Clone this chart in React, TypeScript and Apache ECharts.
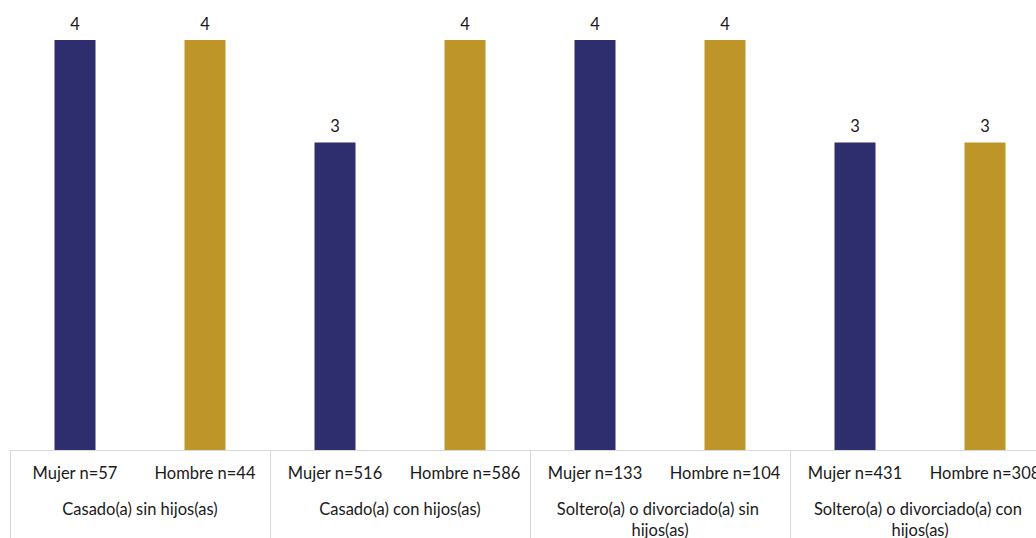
import React, { useEffect, useRef } from "react";
import * as echarts from "echarts";

const subLabels = [
  "Mujer n=57", "Hombre n=44",
  "Mujer n=516", "Hombre n=586",
  "Mujer n=133", "Hombre n=104",
  "Mujer n=431", "Hombre n=308",
];
const values = [4, 4, 3, 4, 4, 4, 3, 3];
const groups = [
  "Casado(a) sin hijos(as)",
  "Casado(a) con hijos(as)",
  "Soltero(a) o divorciado(a) sin hijos(as)",
  "Soltero(a) o divorciado(a) con hijos(as)",
];
const colors = ["#2E2D6D", "#BE9529"];

const FONT = "Lato";
const FS = 16.5;

export default function App() {
  const ref = useRef<HTMLDivElement>(null);
  useEffect(() => {
    const chart = echarts.init(ref.current!, null, { renderer: "svg" });
    chart.setOption({
      animation: false,
      textStyle: { fontFamily: FONT },
      grid: { left: 10, top: 40, right: 0, height: 410, containLabel: false },
      xAxis: [
        {
          type: "category",
          data: subLabels,
          position: "bottom",
          axisLine: { show: true, lineStyle: { color: "#D9D9D9", width: 1 } },
          axisTick: { show: false },
          axisLabel: { color: "#1a1a1a", fontSize: FS, fontFamily: FONT, margin: 14, interval: 0 },
        },
        {
          type: "category",
          data: groups,
          position: "bottom",
          offset: 0,
          axisLine: { show: false },
          axisTick: { show: true, length: 100, lineStyle: { color: "#D9D9D9", width: 1 } },
          axisLabel: {
            color: "#1a1a1a",
            fontSize: FS,
            fontFamily: FONT,
            margin: 48,
            interval: 0,
            width: 230,
            overflow: "break",
            lineHeight: 21,
          },
        },
      ],
      yAxis: {
        type: "value",
        min: 0,
        max: 4,
        show: false,
        splitLine: { show: false },
      },
      series: [
        {
          type: "bar",
          xAxisIndex: 0,
          barWidth: 41,
          data: values.map((v, i) => ({ value: v, itemStyle: { color: colors[i % 2] } })),
          label: {
            show: true,
            position: "top",
            distance: 8,
            color: "#1a1a1a",
            fontSize: FS,
            fontFamily: FONT,
          },
        },
      ],
    });
    return () => chart.dispose();
  }, []);
  return (
    <div
      style={{ position: "fixed", left: 0, top: 0, width: 1036, height: 538, overflow: "hidden", background: "#fff" }}
    >
      <div ref={ref} style={{ width: 1050, height: 560 }} />
    </div>
  );
}
